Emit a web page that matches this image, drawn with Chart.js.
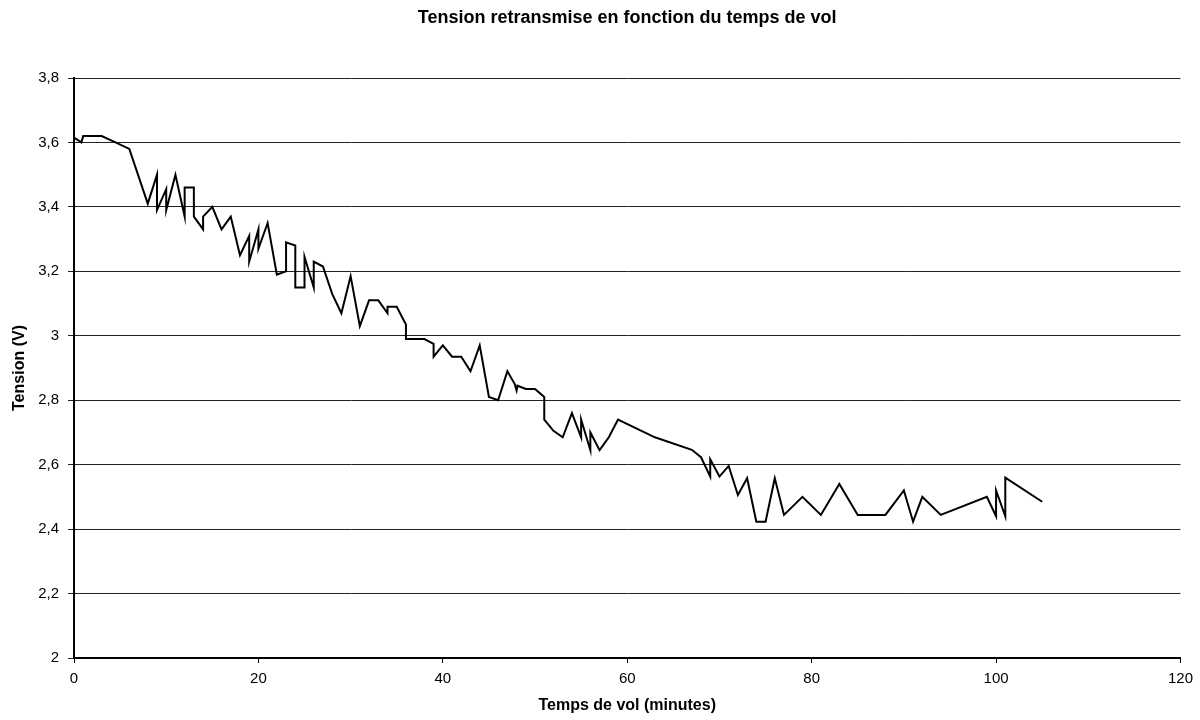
<!DOCTYPE html>
<html>
<head>
<meta charset="utf-8">
<script src="https://cdn.jsdelivr.net/npm/chart.js@4/dist/chart.umd.min.js"></script>
<style>
  html, body { margin: 0; padding: 0; background: #fff; }
  #wrap { width: 1200px; height: 720px; position: relative; }
</style>
</head>
<body>
<div id="wrap"><canvas id="c" width="1200" height="720"></canvas></div>
<script>
// Flight time (minutes) and the voltage sent back (V)
const tempsMinutes = [
  0, 0.8, 1, 3, 4.5, 6, 8, 9, 9, 10, 10, 11, 12, 12, 13, 13, 14, 14, 15, 16,
  17, 18, 19, 19, 20, 20, 21, 22, 23, 23, 24, 24, 25, 25, 26, 26, 27, 28, 29, 30,
  31, 32, 33, 34, 34, 35, 36, 36, 38, 39, 39, 40, 41, 42, 43, 44, 45, 46, 47, 47.8,
  48, 48.1, 49, 50, 51, 51, 52, 53, 54, 55, 55, 56, 56, 57, 58, 59, 63, 67, 68, 69,
  69, 70, 71, 72, 73, 74, 75, 76, 77, 79, 81, 83, 85, 88, 90, 91, 92, 94, 99, 100,
  100, 101, 101, 105
];
const tensionVolts = [
  3.615, 3.60, 3.62, 3.62, 3.60, 3.58, 3.41, 3.50, 3.39, 3.455, 3.39, 3.50, 3.37, 3.46, 3.46, 3.37, 3.33, 3.37, 3.40, 3.33,
  3.37, 3.25, 3.31, 3.23, 3.33, 3.27, 3.35, 3.19, 3.20, 3.29, 3.28, 3.15, 3.15, 3.245, 3.15, 3.23, 3.215, 3.13, 3.07, 3.185,
  3.03, 3.11, 3.11, 3.07, 3.09, 3.09, 3.035, 2.99, 2.99, 2.975, 2.935, 2.97, 2.935, 2.935, 2.89, 2.97, 2.81, 2.80, 2.89, 2.85,
  2.83, 2.845, 2.835, 2.835, 2.81, 2.74, 2.705, 2.685, 2.76, 2.685, 2.74, 2.645, 2.70, 2.645, 2.685, 2.74, 2.685, 2.646, 2.623, 2.563,
  2.617, 2.563, 2.596, 2.506, 2.558, 2.423, 2.423, 2.558, 2.444, 2.50, 2.444, 2.54, 2.444, 2.444, 2.52, 2.423, 2.50, 2.444, 2.50, 2.44,
  2.52, 2.44, 2.56, 2.485
];

// Axis ranges and tick spacing
const xTicks = { min: 0, max: 120, step: 20 };
const yTicks = { min: 2, max: 3.8, step: 0.2 };

const points = tempsMinutes.map((t, i) => ({ x: t, y: tensionVolts[i] }));

const fontFamily = "'Liberation Sans', Arial, sans-serif";
const decimalComma = v => String(Number(v.toFixed(2))).replace('.', ',');

new Chart(document.getElementById('c'), {
  type: 'line',
  data: {
    datasets: [{
      label: 'Tension',
      data: points,
      borderColor: '#000',
      borderWidth: 2,
      pointRadius: 0,
      tension: 0,
      fill: false
    }]
  },
  options: {
    responsive: false,
    animation: false,
    layout: { padding: { left: 0, right: 19, top: 0, bottom: 0 } },
    plugins: {
      legend: { display: false },
      tooltip: { enabled: false },
      title: {
        display: true,
        fullSize: false,
        text: 'Tension retransmise en fonction du temps de vol',
        color: '#000',
        font: { family: fontFamily, size: 18, weight: 'bold' },
        padding: { top: 7, bottom: 49.4 }
      }
    },
    scales: {
      x: {
        type: 'linear',
        min: xTicks.min,
        max: xTicks.max,
        afterFit: s => { s.height = 62; },
        border: { color: '#000', width: 2 },
        grid: { drawOnChartArea: false, drawTicks: true, tickLength: 5, color: '#000' },
        ticks: {
          stepSize: xTicks.step,
          color: '#000',
          font: { family: fontFamily, size: 15 },
          padding: 7,
          maxRotation: 0
        },
        title: {
          display: true,
          text: 'Temps de vol (minutes)',
          color: '#000',
          font: { family: fontFamily, size: 16, weight: 'bold' },
          padding: { top: 0, bottom: 5 }
        }
      },
      y: {
        type: 'linear',
        min: yTicks.min,
        max: yTicks.max,
        afterFit: s => { s.width = 74; },
        border: { color: '#000', width: 2 },
        grid: { color: '#222', lineWidth: 1, drawTicks: true, tickLength: 6 },
        ticks: {
          stepSize: yTicks.step,
          color: '#000',
          font: { family: fontFamily, size: 15 },
          padding: 9,
          callback: v => decimalComma(v)
        },
        title: {
          display: true,
          text: 'Tension (V)',
          color: '#000',
          font: { family: fontFamily, size: 16, weight: 'bold' },
          padding: { top: 10, bottom: 0 }
        }
      }
    }
  }
});
</script>
</body>
</html>
